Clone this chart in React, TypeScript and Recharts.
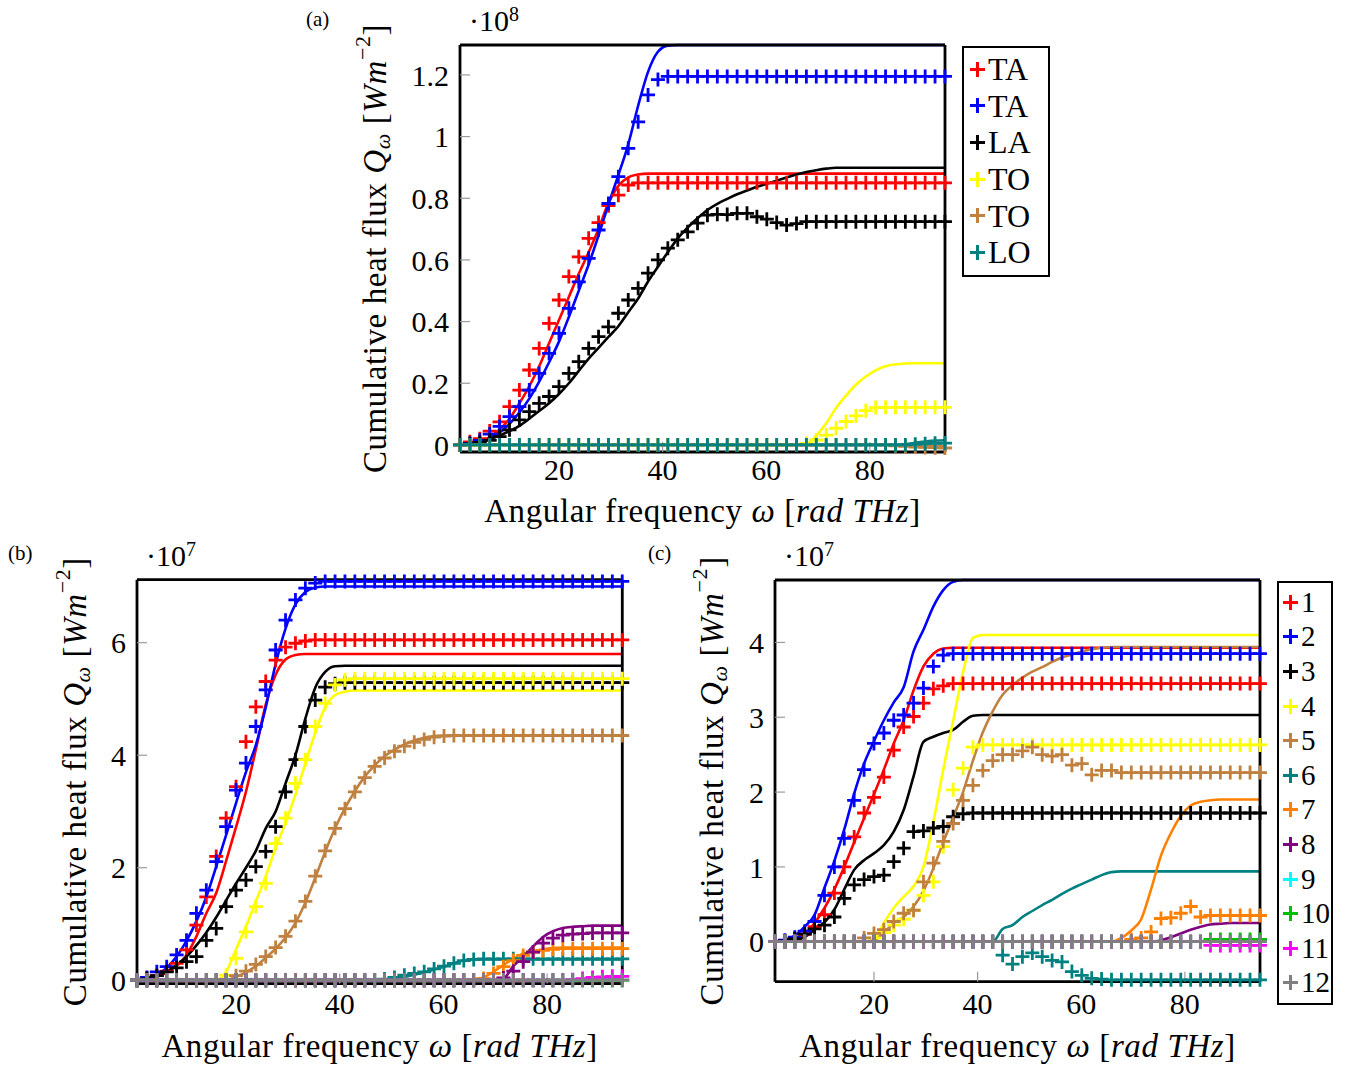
import React from 'react'
import { LineChart, Line, XAxis, YAxis, Label, Legend } from 'recharts'

const FONT = "'Liberation Serif', 'Times New Roman', serif"

// angular frequency grid, rad THz (one value per marker)
const omega = [
  0.9, 2.81, 4.72, 6.63, 8.54, 10.45, 12.36, 14.27, 16.18, 18.09,
  20.0, 21.91, 23.82, 25.73, 27.64, 29.55, 31.46, 33.37, 35.28, 37.19,
  39.1, 41.01, 42.92, 44.83, 46.74, 48.65, 50.56, 52.47, 54.38, 56.29,
  58.2, 60.11, 62.02, 63.93, 65.84, 67.75, 69.66, 71.57, 73.48, 75.39,
  77.3, 79.21, 81.12, 83.03, 84.94, 86.85, 88.76, 90.67, 92.58, 94.49,
]

const X_TICKS = [20, 40, 60, 80]

const flat0 = [
  0, 0, 0, 0, 0, 0, 0, 0, 0, 0,
  0, 0, 0, 0, 0, 0, 0, 0, 0, 0,
  0, 0, 0, 0, 0, 0, 0, 0, 0, 0,
  0, 0, 0, 0, 0, 0, 0, 0, 0, 0,
  0, 0, 0, 0, 0, 0, 0, 0, 0, 0,
]

// ---- panel (a), x 10^8 W m^-2 ----
const aTA1Line = [
  0, 0.003, 0.01, 0.025, 0.05, 0.085, 0.135, 0.19, 0.255, 0.33,
  0.405, 0.48, 0.555, 0.625, 0.7, 0.785, 0.84, 0.868, 0.877, 0.88,
  0.88, 0.88, 0.88, 0.88, 0.88, 0.88, 0.88, 0.88, 0.88, 0.88,
  0.88, 0.88, 0.88, 0.88, 0.88, 0.88, 0.88, 0.88, 0.88, 0.88,
  0.88, 0.88, 0.88, 0.88, 0.88, 0.88, 0.88, 0.88, 0.88, 0.88,
]
const aTA1Mark = [
  0, 0.01, 0.02, 0.045, 0.075, 0.124, 0.178, 0.243, 0.313, 0.394,
  0.47, 0.546, 0.61, 0.67, 0.721, 0.776, 0.81, 0.843, 0.85, 0.85,
  0.85, 0.85, 0.85, 0.85, 0.85, 0.85, 0.85, 0.85, 0.85, 0.85,
  0.85, 0.85, 0.85, 0.85, 0.85, 0.85, 0.85, 0.85, 0.85, 0.85,
  0.85, 0.85, 0.85, 0.85, 0.85, 0.85, 0.85, 0.85, 0.85, 0.85,
]
const aTA2Line = [
  0, 0.003, 0.01, 0.022, 0.04, 0.068, 0.105, 0.15, 0.205, 0.268,
  0.335, 0.415, 0.5, 0.585, 0.68, 0.78, 0.875, 0.975, 1.1, 1.21,
  1.275, 1.295, 1.297, 1.297, 1.297, 1.297, 1.297, 1.297, 1.297, 1.297,
  1.297, 1.297, 1.297, 1.297, 1.297, 1.297, 1.297, 1.297, 1.297, 1.297,
  1.297, 1.297, 1.297, 1.297, 1.297, 1.297, 1.297, 1.297, 1.297, 1.297,
]
const aTA2Mark = [
  0, 0.005, 0.015, 0.035, 0.06, 0.092, 0.124, 0.178, 0.232, 0.297,
  0.362, 0.443, 0.529, 0.605, 0.697, 0.783, 0.87, 0.962, 1.048, 1.135,
  1.185, 1.195, 1.195, 1.195, 1.195, 1.195, 1.195, 1.195, 1.195, 1.195,
  1.195, 1.195, 1.195, 1.195, 1.195, 1.195, 1.195, 1.195, 1.195, 1.195,
  1.195, 1.195, 1.195, 1.195, 1.195, 1.195, 1.195, 1.195, 1.195, 1.195,
]
const aLALine = [
  0, 0.002, 0.008, 0.018, 0.03, 0.045, 0.062, 0.085, 0.11, 0.135,
  0.165, 0.2, 0.24, 0.28, 0.315, 0.35, 0.385, 0.43, 0.475, 0.53,
  0.578, 0.625, 0.67, 0.705, 0.735, 0.762, 0.782, 0.798, 0.813, 0.825,
  0.837, 0.847, 0.857, 0.867, 0.877, 0.885, 0.891, 0.896, 0.899, 0.899,
  0.899, 0.899, 0.899, 0.899, 0.899, 0.899, 0.899, 0.899, 0.899, 0.899,
]
const aLAMark = [
  0, 0.003, 0.008, 0.015, 0.027, 0.049, 0.081, 0.108, 0.135, 0.157,
  0.189, 0.232, 0.27, 0.313, 0.351, 0.383, 0.427, 0.47, 0.508, 0.557,
  0.6, 0.638, 0.665, 0.691, 0.719, 0.745, 0.748, 0.747, 0.751, 0.751,
  0.74, 0.732, 0.721, 0.713, 0.718, 0.724, 0.724, 0.724, 0.724, 0.724,
  0.724, 0.724, 0.724, 0.724, 0.724, 0.724, 0.724, 0.724, 0.724, 0.724,
]
const aTO1Line = [
  0, 0, 0, 0, 0, 0, 0, 0, 0, 0,
  0, 0, 0, 0, 0, 0, 0, 0, 0, 0,
  0, 0, 0, 0, 0, 0, 0, 0, 0, 0,
  0, 0, 0, 0, 0, 0.003, 0.03, 0.07, 0.12, 0.16,
  0.195, 0.222, 0.242, 0.255, 0.261, 0.264, 0.265, 0.265, 0.265, 0.265,
]
const aTO1Mark = [
  0, 0, 0, 0, 0, 0, 0, 0, 0, 0,
  0, 0, 0, 0, 0, 0, 0, 0, 0, 0,
  0, 0, 0, 0, 0, 0, 0, 0, 0, 0,
  0, 0, 0, 0, 0, 0.005, 0.016, 0.032, 0.054, 0.076,
  0.094, 0.111, 0.121, 0.122, 0.122, 0.122, 0.122, 0.122, 0.122, 0.122,
]
const aTO2Line = [
  0, 0, 0, 0, 0, 0, 0, 0, 0, 0,
  0, 0, 0, 0, 0, 0, 0, 0, 0, 0,
  0, 0, 0, 0, 0, 0, 0, 0, 0, 0,
  0, 0, 0, 0, 0, 0, 0, 0, 0, 0,
  0, 0, 0, 0, 0, -0.001, -0.002, -0.003, -0.003, -0.004,
]
const aTO2Mark = [
  0, 0, 0, 0, 0, 0, 0, 0, 0, 0,
  0, 0, 0, 0, 0, 0, 0, 0, 0, 0,
  0, 0, 0, 0, 0, 0, 0, 0, 0, 0,
  0, 0, 0, 0, 0, 0, 0, 0, 0, 0,
  0, 0, 0, 0, -0.003, -0.005, -0.007, -0.008, -0.009, -0.01,
]
const aLOLine = [
  0, 0, 0, 0, 0, 0, 0, 0, 0, 0,
  0, 0, 0, 0, 0, 0, 0, 0, 0, 0,
  0, 0, 0, 0, 0, 0, 0, 0, 0, 0,
  0, 0, 0, 0, 0, 0, 0, 0, 0, 0,
  0, 0, 0, 0, 0, 0.003, 0.007, 0.011, 0.014, 0.015,
]
const aLOMark = [
  0, 0, 0, 0, 0, 0, 0, 0, 0, 0,
  0, 0, 0, 0, 0, 0, 0, 0, 0, 0,
  0, 0, 0, 0, 0, 0, 0, 0, 0, 0,
  0, 0, 0, 0, 0, 0, 0, 0, 0, 0,
  0, 0, 0, 0, 0, 0, 0.002, 0.004, 0.005, 0.006,
]

// ---- panel (b), x 10^7 W m^-2 ----
const b1Line = [
  0, 0.02, 0.06, 0.14, 0.26, 0.45, 0.78, 1.19, 1.55, 2.12,
  2.72, 3.35, 4.1, 4.9, 5.43, 5.7, 5.78, 5.8, 5.8, 5.8,
  5.8, 5.8, 5.8, 5.8, 5.8, 5.8, 5.8, 5.8, 5.8, 5.8,
  5.8, 5.8, 5.8, 5.8, 5.8, 5.8, 5.8, 5.8, 5.8, 5.8,
  5.8, 5.8, 5.8, 5.8, 5.8, 5.8, 5.8, 5.8, 5.8, 5.8,
]
const b1Mark = [
  0, 0.03, 0.08, 0.16, 0.3, 0.54, 0.98, 1.48, 2.2, 2.88,
  3.44, 4.24, 4.86, 5.31, 5.69, 5.92, 5.99, 6.03, 6.05, 6.05,
  6.05, 6.05, 6.05, 6.05, 6.05, 6.05, 6.05, 6.05, 6.05, 6.05,
  6.05, 6.05, 6.05, 6.05, 6.05, 6.05, 6.05, 6.05, 6.05, 6.05,
  6.05, 6.05, 6.05, 6.05, 6.05, 6.05, 6.05, 6.05, 6.05, 6.05,
]
const b2Line = [
  0, 0.03, 0.1, 0.22, 0.42, 0.7, 1.05, 1.48, 2.02, 2.58,
  3.15, 3.7, 4.18, 4.85, 5.62, 6.25, 6.68, 6.9, 6.98, 7.0,
  7.0, 7.0, 7.0, 7.0, 7.0, 7.0, 7.0, 7.0, 7.0, 7.0,
  7.0, 7.0, 7.0, 7.0, 7.0, 7.0, 7.0, 7.0, 7.0, 7.0,
  7.0, 7.0, 7.0, 7.0, 7.0, 7.0, 7.0, 7.0, 7.0, 7.0,
]
const b2Mark = [
  0, 0.05, 0.15, 0.24, 0.45, 0.71, 1.19, 1.6, 2.11, 2.73,
  3.38, 3.86, 4.51, 5.16, 5.87, 6.4, 6.76, 6.97, 7.06, 7.09,
  7.09, 7.09, 7.09, 7.09, 7.09, 7.09, 7.09, 7.09, 7.09, 7.09,
  7.09, 7.09, 7.09, 7.09, 7.09, 7.09, 7.09, 7.09, 7.09, 7.09,
  7.09, 7.09, 7.09, 7.09, 7.09, 7.09, 7.09, 7.09, 7.09, 7.09,
]
const b3Line = [
  0, 0.02, 0.07, 0.15, 0.27, 0.42, 0.62, 0.85, 1.12, 1.42,
  1.72, 2.0, 2.3, 2.7, 3.0, 3.5, 4.0, 4.65, 5.2, 5.48,
  5.58, 5.59, 5.59, 5.59, 5.59, 5.59, 5.59, 5.59, 5.59, 5.59,
  5.59, 5.59, 5.59, 5.59, 5.59, 5.59, 5.59, 5.59, 5.59, 5.59,
  5.59, 5.59, 5.59, 5.59, 5.59, 5.59, 5.59, 5.59, 5.59, 5.59,
]
const b3Mark = [
  0, 0.03, 0.08, 0.15, 0.22, 0.33, 0.42, 0.71, 0.92, 1.31,
  1.6, 1.78, 2.02, 2.29, 2.73, 3.35, 3.92, 4.51, 4.98, 5.21,
  5.27, 5.29, 5.29, 5.29, 5.29, 5.29, 5.29, 5.29, 5.29, 5.29,
  5.29, 5.29, 5.29, 5.29, 5.29, 5.29, 5.29, 5.29, 5.29, 5.29,
  5.29, 5.29, 5.29, 5.29, 5.29, 5.29, 5.29, 5.29, 5.29, 5.29,
]
const b4Line = [
  0, 0, 0, 0, 0, 0, 0, 0, 0, 0.15,
  0.55, 0.95, 1.4, 1.85, 2.35, 2.8, 3.3, 3.85, 4.4, 4.85,
  5.07, 5.13, 5.15, 5.15, 5.15, 5.15, 5.15, 5.15, 5.15, 5.15,
  5.15, 5.15, 5.15, 5.15, 5.15, 5.15, 5.15, 5.15, 5.15, 5.15,
  5.15, 5.15, 5.15, 5.15, 5.15, 5.15, 5.15, 5.15, 5.15, 5.15,
]
const b4Mark = [
  0, 0, 0, 0, 0, 0, 0, 0, 0, 0.09,
  0.39, 0.86, 1.31, 1.72, 2.43, 2.88, 3.5, 3.92, 4.51, 4.92,
  5.25, 5.34, 5.36, 5.36, 5.36, 5.36, 5.36, 5.36, 5.36, 5.36,
  5.36, 5.36, 5.36, 5.36, 5.36, 5.36, 5.36, 5.36, 5.36, 5.36,
  5.36, 5.36, 5.36, 5.36, 5.36, 5.36, 5.36, 5.36, 5.36, 5.36,
]
const b5Line = [
  0, 0, 0, 0, 0, 0, 0, 0, 0, 0,
  0.06, 0.14, 0.25, 0.4, 0.56, 0.76, 1.02, 1.38, 1.82, 2.28,
  2.7, 3.06, 3.36, 3.62, 3.82, 3.98, 4.1, 4.19, 4.26, 4.31,
  4.34, 4.35, 4.35, 4.35, 4.35, 4.35, 4.35, 4.35, 4.35, 4.35,
  4.35, 4.35, 4.35, 4.35, 4.35, 4.35, 4.35, 4.35, 4.35, 4.35,
]
const b5Mark = [
  0, 0, 0, 0, 0, 0, 0, 0, 0, 0,
  0.08, 0.16, 0.28, 0.42, 0.58, 0.78, 1.05, 1.4, 1.85, 2.3,
  2.7, 3.05, 3.35, 3.6, 3.8, 3.95, 4.07, 4.16, 4.23, 4.28,
  4.32, 4.34, 4.35, 4.35, 4.35, 4.35, 4.35, 4.35, 4.35, 4.35,
  4.35, 4.35, 4.35, 4.35, 4.35, 4.35, 4.35, 4.35, 4.35, 4.35,
]
const b6Line = [
  0, 0, 0, 0, 0, 0, 0, 0, 0, 0,
  0, 0, 0, 0, 0, 0, 0, 0, 0, 0,
  0, 0, 0, 0, 0, 0.01, 0.03, 0.06, 0.1, 0.14,
  0.19, 0.24, 0.3, 0.35, 0.37, 0.37, 0.37, 0.37, 0.37, 0.37,
  0.37, 0.37, 0.37, 0.37, 0.37, 0.37, 0.37, 0.37, 0.37, 0.37,
]
const b6Mark = [
  0, 0, 0, 0, 0, 0, 0, 0, 0, 0,
  0, 0, 0, 0, 0, 0, 0, 0, 0, 0,
  0, 0, 0, 0, 0, 0.02, 0.05, 0.09, 0.12, 0.15,
  0.2, 0.25, 0.3, 0.35, 0.37, 0.38, 0.38, 0.38, 0.38, 0.38,
  0.38, 0.38, 0.38, 0.38, 0.38, 0.38, 0.38, 0.38, 0.38, 0.38,
]
const b7Line = [
  0, 0, 0, 0, 0, 0, 0, 0, 0, 0,
  0, 0, 0, 0, 0, 0, 0, 0, 0, 0,
  0, 0, 0, 0, 0, 0, 0, 0, 0, 0,
  0, 0, 0, 0, 0.02, 0.05, 0.15, 0.27, 0.38, 0.47,
  0.52, 0.55, 0.57, 0.58, 0.58, 0.58, 0.58, 0.58, 0.58, 0.58,
]
const b7Mark = [
  0, 0, 0, 0, 0, 0, 0, 0, 0, 0,
  0, 0, 0, 0, 0, 0, 0, 0, 0, 0,
  0, 0, 0, 0, 0, 0, 0, 0, 0, 0,
  0, 0, 0, 0, 0, 0.03, 0.12, 0.24, 0.35, 0.44,
  0.5, 0.53, 0.55, 0.56, 0.56, 0.56, 0.56, 0.56, 0.56, 0.56,
]
const b8Line = [
  0, 0, 0, 0, 0, 0, 0, 0, 0, 0,
  0, 0, 0, 0, 0, 0, 0, 0, 0, 0,
  0, 0, 0, 0, 0, 0, 0, 0, 0, 0,
  0, 0, 0, 0, 0, 0, 0, 0.03, 0.25, 0.42,
  0.6, 0.77, 0.87, 0.93, 0.95, 0.96, 0.97, 0.97, 0.97, 0.97,
]
const b8Mark = [
  0, 0, 0, 0, 0, 0, 0, 0, 0, 0,
  0, 0, 0, 0, 0, 0, 0, 0, 0, 0,
  0, 0, 0, 0, 0, 0, 0, 0, 0, 0,
  0, 0, 0, 0, 0, 0, 0, 0.04, 0.16, 0.33,
  0.5, 0.66, 0.75, 0.8, 0.82, 0.83, 0.84, 0.84, 0.84, 0.84,
]
const b11Line = [
  0, 0, 0, 0, 0, 0, 0, 0, 0, 0,
  0, 0, 0, 0, 0, 0, 0, 0, 0, 0,
  0, 0, 0, 0, 0, 0, 0, 0, 0, 0,
  0, 0, 0, 0, 0, 0, 0, 0, 0, 0,
  0, 0, 0, 0, 0, 0.01, 0.02, 0.03, 0.04, 0.05,
]
const b11Mark = [
  0, 0, 0, 0, 0, 0, 0, 0, 0, 0,
  0, 0, 0, 0, 0, 0, 0, 0, 0, 0,
  0, 0, 0, 0, 0, 0, 0, 0, 0, 0,
  0, 0, 0, 0, 0, 0, 0, 0, 0, 0,
  0, 0, 0, 0, 0.01, 0.03, 0.05, 0.06, 0.07, 0.07,
]
const b12Line = [
  0, 0, 0, 0, 0, 0, 0, 0, 0, 0,
  0, 0, 0, 0, 0, 0, 0, 0, 0, 0,
  0, 0, 0, 0, 0, 0, 0, 0, 0, 0,
  0, 0, 0, 0, 0, 0, 0, 0, 0, 0,
  0, 0, 0, 0, -0.01, -0.02, -0.03, -0.04, -0.05, -0.055,
]

// ---- panel (c), x 10^7 W m^-2 ----
const c1Line = [
  0, 0.01, 0.04, 0.1, 0.25, 0.45, 0.7, 1.0, 1.33, 1.65,
  1.97, 2.3, 2.65, 2.96, 3.36, 3.68, 3.85, 3.92, 3.93, 3.93,
  3.93, 3.93, 3.93, 3.93, 3.93, 3.93, 3.93, 3.93, 3.93, 3.93,
  3.93, 3.93, 3.93, 3.93, 3.93, 3.93, 3.93, 3.93, 3.93, 3.93,
  3.93, 3.93, 3.93, 3.93, 3.93, 3.93, 3.93, 3.93, 3.93, 3.93,
]
const c1Mark = [
  0, 0.01, 0.04, 0.1, 0.2, 0.36, 0.65, 1.0, 1.4, 1.72,
  1.93, 2.2, 2.56, 2.87, 3.01, 3.19, 3.38, 3.42, 3.45, 3.45,
  3.45, 3.45, 3.45, 3.45, 3.45, 3.45, 3.45, 3.45, 3.45, 3.45,
  3.45, 3.45, 3.45, 3.45, 3.45, 3.45, 3.45, 3.45, 3.45, 3.45,
  3.45, 3.45, 3.45, 3.45, 3.45, 3.45, 3.45, 3.45, 3.45, 3.45,
]
const c2Line = [
  0, 0.02, 0.08, 0.2, 0.36, 0.72, 1.08, 1.5, 1.98, 2.38,
  2.68, 2.96, 3.2, 3.4, 3.88, 4.17, 4.48, 4.7, 4.81, 4.835,
  4.835, 4.835, 4.835, 4.835, 4.835, 4.835, 4.835, 4.835, 4.835, 4.835,
  4.835, 4.835, 4.835, 4.835, 4.835, 4.835, 4.835, 4.835, 4.835, 4.835,
  4.835, 4.835, 4.835, 4.835, 4.835, 4.835, 4.835, 4.835, 4.835, 4.835,
]
const c2Mark = [
  0, 0.02, 0.06, 0.14, 0.27, 0.62, 1.0, 1.38, 1.89, 2.3,
  2.65, 2.79, 2.96, 3.03, 3.19, 3.39, 3.68, 3.83, 3.85, 3.85,
  3.85, 3.85, 3.85, 3.85, 3.85, 3.85, 3.85, 3.85, 3.85, 3.85,
  3.85, 3.85, 3.85, 3.85, 3.85, 3.85, 3.85, 3.85, 3.85, 3.85,
  3.85, 3.85, 3.85, 3.85, 3.85, 3.85, 3.85, 3.85, 3.85, 3.85,
]
const c3Line = [
  0, 0.005, 0.02, 0.06, 0.16, 0.26, 0.43, 0.7, 0.96, 1.09,
  1.18, 1.29, 1.47, 1.76, 2.21, 2.67, 2.74, 2.79, 2.83, 2.94,
  3.02, 3.03, 3.03, 3.03, 3.03, 3.03, 3.03, 3.03, 3.03, 3.03,
  3.03, 3.03, 3.03, 3.03, 3.03, 3.03, 3.03, 3.03, 3.03, 3.03,
  3.03, 3.03, 3.03, 3.03, 3.03, 3.03, 3.03, 3.03, 3.03, 3.03,
]
const c3Mark = [
  0, 0.01, 0.04, 0.1, 0.17, 0.22, 0.33, 0.58, 0.76, 0.83,
  0.87, 0.89, 1.07, 1.25, 1.47, 1.48, 1.52, 1.54, 1.67, 1.71,
  1.72, 1.72, 1.72, 1.72, 1.72, 1.72, 1.72, 1.72, 1.72, 1.72,
  1.72, 1.72, 1.72, 1.72, 1.72, 1.72, 1.72, 1.72, 1.72, 1.72,
  1.72, 1.72, 1.72, 1.72, 1.72, 1.72, 1.72, 1.72, 1.72, 1.72,
]
const c4Line = [
  0, 0, 0, 0, 0, 0, 0, 0, 0, 0,
  0.03, 0.25, 0.45, 0.6, 0.74, 1.0, 1.6, 2.3, 2.95, 3.6,
  4.06, 4.1, 4.1, 4.1, 4.1, 4.1, 4.1, 4.1, 4.1, 4.1,
  4.1, 4.1, 4.1, 4.1, 4.1, 4.1, 4.1, 4.1, 4.1, 4.1,
  4.1, 4.1, 4.1, 4.1, 4.1, 4.1, 4.1, 4.1, 4.1, 4.1,
]
const c4Mark = [
  0, 0, 0, 0, 0, 0, 0, 0, 0, 0,
  0.05, 0.12, 0.22, 0.3, 0.42, 0.62, 0.8, 1.27, 2.03, 2.32,
  2.6, 2.63, 2.63, 2.63, 2.63, 2.63, 2.63, 2.63, 2.63, 2.63,
  2.63, 2.63, 2.63, 2.63, 2.63, 2.63, 2.63, 2.63, 2.63, 2.63,
  2.63, 2.63, 2.63, 2.63, 2.63, 2.63, 2.63, 2.63, 2.63, 2.63,
]
const c5Line = [
  0, 0, 0, 0, 0, 0, 0, 0, 0, 0,
  0.02, 0.12, 0.25, 0.33, 0.47, 0.68, 0.98, 1.33, 1.66, 2.0,
  2.42, 2.8, 3.08, 3.3, 3.43, 3.53, 3.61, 3.67, 3.74, 3.8,
  3.84, 3.88, 3.91, 3.93, 3.94, 3.94, 3.94, 3.94, 3.94, 3.94,
  3.94, 3.94, 3.94, 3.94, 3.94, 3.94, 3.94, 3.94, 3.94, 3.94,
]
const c5Mark = [
  0, 0, 0, 0, 0, 0, 0, 0, 0, 0.05,
  0.11, 0.16, 0.27, 0.38, 0.42, 0.8, 1.05, 1.34, 1.58, 1.89,
  2.09, 2.29, 2.42, 2.5, 2.5, 2.55, 2.6, 2.5, 2.48, 2.5,
  2.36, 2.38, 2.23, 2.29, 2.29, 2.26, 2.26, 2.26, 2.26, 2.26,
  2.26, 2.26, 2.26, 2.26, 2.26, 2.26, 2.26, 2.26, 2.26, 2.26,
]
const c6Line = [
  0, 0, 0, 0, 0, 0, 0, 0, 0, 0,
  0, 0, 0, 0, 0, 0, 0, 0, 0, 0,
  0, 0, 0, 0.17, 0.22, 0.33, 0.41, 0.49, 0.56, 0.64,
  0.71, 0.77, 0.83, 0.89, 0.93, 0.94, 0.94, 0.94, 0.94, 0.94,
  0.94, 0.94, 0.94, 0.94, 0.94, 0.94, 0.94, 0.94, 0.94, 0.94,
]
const c6Mark = [
  0, 0, 0, 0, 0, 0, 0, 0, 0, 0,
  0, 0, 0, 0, 0, 0, 0, 0, 0, 0,
  0, 0, 0, -0.18, -0.3, -0.2, -0.15, -0.2, -0.25, -0.27,
  -0.4, -0.45, -0.49, -0.5, -0.51, -0.51, -0.51, -0.51, -0.51, -0.51,
  -0.51, -0.51, -0.51, -0.51, -0.51, -0.51, -0.51, -0.51, -0.51, -0.51,
]
const c7Line = [
  0, 0, 0, 0, 0, 0, 0, 0, 0, 0,
  0, 0, 0, 0, 0, 0, 0, 0, 0, 0,
  0, 0, 0, 0, 0, 0, 0, 0, 0, 0,
  0, 0, 0, 0, 0, 0.05, 0.15, 0.3, 0.7, 1.15,
  1.45, 1.68, 1.82, 1.87, 1.89, 1.9, 1.9, 1.9, 1.9, 1.9,
]
const c7Mark = [
  0, 0, 0, 0, 0, 0, 0, 0, 0, 0,
  0, 0, 0, 0, 0, 0, 0, 0, 0, 0,
  0, 0, 0, 0, 0, 0, 0, 0, 0, 0,
  0, 0, 0, 0, 0, 0, 0.03, 0.05, 0.13, 0.31,
  0.32, 0.38, 0.47, 0.33, 0.35, 0.35, 0.35, 0.35, 0.35, 0.35,
]
const c8Line = [
  0, 0, 0, 0, 0, 0, 0, 0, 0, 0,
  0, 0, 0, 0, 0, 0, 0, 0, 0, 0,
  0, 0, 0, 0, 0, 0, 0, 0, 0, 0,
  0, 0, 0, 0, 0, 0, 0, 0, 0, 0.02,
  0.06, 0.11, 0.16, 0.2, 0.23, 0.24, 0.25, 0.25, 0.25, 0.25,
]
const c10Mark = [
  0, 0, 0, 0, 0, 0, 0, 0, 0, 0,
  0, 0, 0, 0, 0, 0, 0, 0, 0, 0,
  0, 0, 0, 0, 0, 0, 0, 0, 0, 0,
  0, 0, 0, 0, 0, 0, 0, 0, 0, 0,
  0, 0, 0, 0, 0.03, 0.03, 0.03, 0.03, 0.03, 0.03,
]
const c11Mark = [
  0, 0, 0, 0, 0, 0, 0, 0, 0, 0,
  0, 0, 0, 0, 0, 0, 0, 0, 0, 0,
  0, 0, 0, 0, 0, 0, 0, 0, 0, 0,
  0, 0, 0, 0, 0, 0, 0, 0, 0, 0,
  0, 0, 0, 0, -0.05, -0.05, -0.05, -0.05, -0.05, -0.05,
]

const RED = '#ff0000'
const BLUE = '#0000ff'
const BLACK = '#000000'
const YELLOW = '#ffff00'
const BROWN = '#bf8040'
const TEAL = '#008080'
const ORANGE = '#ff8000'
const VIOLET = '#800080'
const CYAN = '#00ffff'
const GREEN = '#00bf00'
const MAGENTA = '#ff00ff'
const GRAY = '#808080'

type Curve = { name: string; color: string; line: number[]; mark: number[] }

const curvesA: Curve[] = [
  { name: 'TA', color: RED, line: aTA1Line, mark: aTA1Mark },
  { name: 'TA', color: BLUE, line: aTA2Line, mark: aTA2Mark },
  { name: 'LA', color: BLACK, line: aLALine, mark: aLAMark },
  { name: 'TO', color: YELLOW, line: aTO1Line, mark: aTO1Mark },
  { name: 'TO', color: BROWN, line: aTO2Line, mark: aTO2Mark },
  { name: 'LO', color: TEAL, line: aLOLine, mark: aLOMark },
]

const curvesB: Curve[] = [
  { name: '1', color: RED, line: b1Line, mark: b1Mark },
  { name: '2', color: BLUE, line: b2Line, mark: b2Mark },
  { name: '3', color: BLACK, line: b3Line, mark: b3Mark },
  { name: '4', color: YELLOW, line: b4Line, mark: b4Mark },
  { name: '5', color: BROWN, line: b5Line, mark: b5Mark },
  { name: '6', color: TEAL, line: b6Line, mark: b6Mark },
  { name: '7', color: ORANGE, line: b7Line, mark: b7Mark },
  { name: '8', color: VIOLET, line: b8Line, mark: b8Mark },
  { name: '9', color: CYAN, line: flat0, mark: flat0 },
  { name: '10', color: GREEN, line: flat0, mark: flat0 },
  { name: '11', color: MAGENTA, line: b11Line, mark: b11Mark },
  { name: '12', color: GRAY, line: b12Line, mark: flat0 },
]

const curvesC: Curve[] = [
  { name: '1', color: RED, line: c1Line, mark: c1Mark },
  { name: '2', color: BLUE, line: c2Line, mark: c2Mark },
  { name: '3', color: BLACK, line: c3Line, mark: c3Mark },
  { name: '4', color: YELLOW, line: c4Line, mark: c4Mark },
  { name: '5', color: BROWN, line: c5Line, mark: c5Mark },
  { name: '6', color: TEAL, line: c6Line, mark: c6Mark },
  { name: '7', color: ORANGE, line: c7Line, mark: c7Mark },
  { name: '8', color: VIOLET, line: c8Line, mark: flat0 },
  { name: '9', color: CYAN, line: flat0, mark: flat0 },
  { name: '10', color: GREEN, line: flat0, mark: c10Mark },
  { name: '11', color: MAGENTA, line: flat0, mark: c11Mark },
  { name: '12', color: GRAY, line: flat0, mark: flat0 },
]

const toRows = (vals: number[]) => omega.map((x, i) => ({ x, y: vals[i] }))

const plusDot = (color: string) => (p: any) => {
  const { cx, cy, index } = p
  if (cx == null || cy == null || isNaN(cx) || isNaN(cy)) return <g key={`n${index}`} />
  const s = 7
  return (
    <path
      key={`p${index}`}
      d={`M${cx - s},${cy}H${cx + s}M${cx},${cy - s}V${cy + s}`}
      stroke={color}
      strokeWidth={2.8}
      fill="none"
    />
  )
}

const TICK_LINE = { stroke: '#9a9a9a', strokeWidth: 1.2 }
const FRAME = { stroke: '#000', strokeWidth: 2.8 }
const TICK_TEXT = { fill: '#000', fontSize: 30, fontFamily: FONT }

const xTitle = (gap: number) => (props: any) => {
  const vb = props.viewBox
  return (
    <text
      x={vb.x + vb.width / 2}
      y={vb.y + gap}
      textAnchor="middle"
      fontFamily={FONT}
      fontSize={33}
      letterSpacing={0.6}
      fill="#000"
    >
      Angular frequency <tspan fontStyle="italic">ω</tspan> [<tspan fontStyle="italic">rad THz</tspan>]
    </text>
  )
}

const yTitle = (gap: number) => (props: any) => {
  const vb = props.viewBox
  const cx = vb.x + vb.width - gap
  const cy = vb.y + vb.height / 2
  return (
    <text
      x={cx}
      y={cy}
      transform={`rotate(-90, ${cx}, ${cy})`}
      textAnchor="middle"
      dominantBaseline="central"
      fontFamily={FONT}
      fontSize={33}
      letterSpacing={0.6}
      fill="#000"
    >
      Cumulative heat flux <tspan fontStyle="italic">Q</tspan>
      <tspan fontStyle="italic" fontSize={22} dy={7}>ω</tspan>
      <tspan dy={-7}> [</tspan>
      <tspan fontStyle="italic">Wm</tspan>
      <tspan fontSize={22} dy={-13}>−2</tspan>
      <tspan dy={13}>]</tspan>
    </text>
  )
}

const exponentLabel = (exp: string) => (props: any) => {
  const vb = props.viewBox
  return (
    <text x={vb.x + vb.width + 9} y={vb.y - 14} fontFamily={FONT} fontSize={30} fill="#000">
      ·10<tspan fontSize={20} dy={-10}>{exp}</tspan>
    </text>
  )
}

type LegendBox = {
  left: number
  top: number
  w: number
  h: number
  rowH: number
  padTop: number
  padLeft: number
  fontSize: number
}

const legendContent = (curves: Curve[], box: LegendBox) => () => (
  <div
    style={{
      boxSizing: 'border-box',
      width: box.w,
      height: box.h,
      border: '2.8px solid #000',
      background: '#fff',
      paddingTop: box.padTop,
      paddingLeft: box.padLeft,
      fontFamily: FONT,
      fontSize: box.fontSize,
      color: '#000',
    }}
  >
    {curves.map((c, i) => (
      <div key={i} style={{ height: box.rowH, display: 'flex', alignItems: 'center' }}>
        <svg width={17} height={17} style={{ flex: 'none' }}>
          <path d="M1,8.5H16M8.5,1V16" stroke={c.color} strokeWidth={3} fill="none" />
        </svg>
        <span style={{ marginLeft: 2, lineHeight: 1 }}>{c.name}</span>
      </div>
    ))}
  </div>
)

type PanelProps = {
  left: number
  top: number
  w: number
  h: number
  ml: number
  mt: number
  mr: number
  mb: number
  yDomain: [number, number]
  yTicks: number[]
  exponent: string
  yTitleGap: number
  xTitleGap: number
  xTickGap: number
  curves: Curve[]
  legend?: LegendBox
}

function Panel(p: PanelProps) {
  const width = p.ml + p.w + p.mr
  const height = p.mt + p.h + p.mb
  const chartLeft = p.left - p.ml
  const chartTop = p.top - p.mt
  return (
    <div style={{ position: 'absolute', left: chartLeft, top: chartTop }}>
      <LineChart
        width={width}
        height={height}
        margin={{ left: p.ml - 1, top: p.mt - 1, right: p.mr - 1, bottom: p.mb - 1 }}
      >
        <XAxis
          dataKey="x"
          type="number"
          domain={[0.9, 94.5]}
          ticks={X_TICKS}
          interval={0}
          height={1}
          tickSize={-10}
          tickMargin={p.xTickGap}
          tickLine={TICK_LINE}
          axisLine={FRAME}
          tick={TICK_TEXT}
        >
          <Label content={xTitle(p.xTitleGap)} />
        </XAxis>
        <XAxis
          xAxisId="top"
          orientation="top"
          dataKey="x"
          type="number"
          domain={[0.9, 94.5]}
          allowDataOverflow
          ticks={X_TICKS}
          interval={0}
          height={1}
          tickSize={-10}
          tickLine={TICK_LINE}
          axisLine={FRAME}
          tick={false}
        />
        <YAxis
          type="number"
          domain={p.yDomain}
          ticks={p.yTicks}
          interval={0}
          width={1}
          tickSize={-10}
          tickMargin={21}
          tickLine={TICK_LINE}
          axisLine={FRAME}
          tick={TICK_TEXT}
        >
          <Label content={yTitle(p.yTitleGap)} />
          <Label content={exponentLabel(p.exponent)} />
        </YAxis>
        <YAxis
          yAxisId="right"
          orientation="right"
          type="number"
          domain={p.yDomain}
          allowDataOverflow
          ticks={p.yTicks}
          interval={0}
          width={1}
          tickSize={-10}
          tickLine={TICK_LINE}
          axisLine={FRAME}
          tick={false}
        />
        {p.curves.map((c, i) => (
          <Line
            key={`line${i}`}
            data={toRows(c.line)}
            dataKey="y"
            type="monotone"
            stroke={c.color}
            strokeWidth={2.6}
            dot={false}
            activeDot={false}
            legendType="none"
            isAnimationActive={false}
          />
        ))}
        {p.curves.map((c, i) => (
          <Line
            key={`mark${i}`}
            data={toRows(c.mark)}
            dataKey="y"
            stroke="none"
            dot={plusDot(c.color)}
            activeDot={false}
            legendType="none"
            isAnimationActive={false}
          />
        ))}
        {p.legend && (
          <Legend
            layout="vertical"
            align="center"
            verticalAlign="middle"
            content={legendContent(p.curves, p.legend)}
            wrapperStyle={{
              left: p.legend.left - chartLeft,
              top: p.legend.top - chartTop,
              width: p.legend.w,
              height: p.legend.h,
            }}
          />
        )}
      </LineChart>
    </div>
  )
}

export default function App() {
  return (
    <div style={{ position: 'absolute', left: 0, top: 0, width: 1368, height: 1068, background: '#fff' }}>
      <svg width={1368} height={1068} style={{ position: 'absolute', left: 0, top: 0, pointerEvents: 'none' }}>
        <text x={306} y={26} fontFamily={FONT} fontSize={21} fill="#000">(a)</text>
        <text x={8} y={560} fontFamily={FONT} fontSize={21} fill="#000">(b)</text>
        <text x={648} y={560} fontFamily={FONT} fontSize={21} fill="#000">(c)</text>
      </svg>
      <Panel
        left={460}
        top={45}
        w={485}
        h={407}
        ml={160}
        mt={45}
        mr={120}
        mb={100}
        yDomain={[-0.023, 1.297]}
        yTicks={[0, 0.2, 0.4, 0.6, 0.8, 1, 1.2]}
        exponent="8"
        yTitleGap={85}
        xTitleGap={70}
        xTickGap={17}
        curves={curvesA}
        legend={{ left: 962, top: 46, w: 88, h: 231, rowH: 36.6, padTop: 3, padLeft: 5, fontSize: 32 }}
      />
      <Panel
        left={137}
        top={579.7}
        w={485.3}
        h={403.9}
        ml={137}
        mt={49.7}
        mr={20}
        mb={84.4}
        yDomain={[-0.06, 7.12]}
        yTicks={[0, 2, 4, 6]}
        exponent="7"
        yTitleGap={62}
        xTitleGap={73}
        xTickGap={19}
        curves={curvesB}
      />
      <Panel
        left={775}
        top={580}
        w={485}
        h={401.7}
        ml={135}
        mt={50}
        mr={100}
        mb={86.3}
        yDomain={[-0.535, 4.835]}
        yTicks={[0, 1, 2, 3, 4]}
        exponent="7"
        yTitleGap={63}
        xTitleGap={75}
        xTickGap={21}
        curves={curvesC}
        legend={{ left: 1277, top: 581, w: 56, h: 424, rowH: 34.6, padTop: 2, padLeft: 3, fontSize: 29 }}
      />
    </div>
  )
}
